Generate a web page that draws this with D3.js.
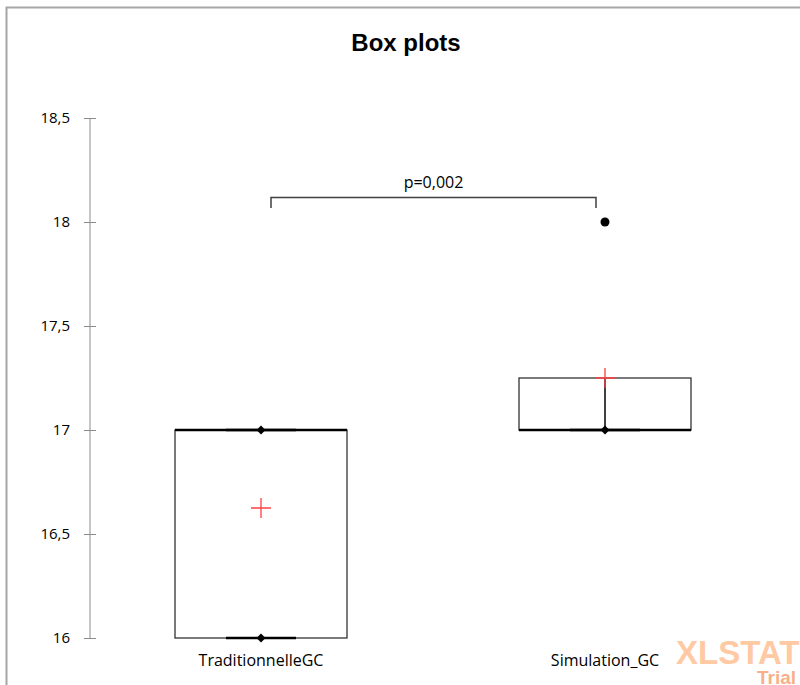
<!DOCTYPE html>
<html><head><meta charset="utf-8">
<script src="https://cdn.jsdelivr.net/npm/d3@7"></script>
<style>body{margin:0;background:#fff}svg{display:block}</style>
</head><body>
<script>
const categories = ["TraditionnelleGC", "Simulation_GC"];
const minVals = [16, 17];
const q1Vals = [16, 17];
const medianVals = [17, 17];
const q3Vals = [17, 17.25];
const maxVals = [17, 17.25];
const meanVals = [16.625, 17.25];
const outliers = [[], [18]];
const yTicks = [16, 16.5, 17, 17.5, 18, 18.5];
const pLabel = "p=0,002";

const W = 800, H = 685;
const svg = d3.select("body").append("svg").attr("width", W).attr("height", H);

// frame
svg.append("path").attr("d", `M6.5,${H} V7.5 H${W}`).attr("fill", "none").attr("stroke", "#a6a6a6").attr("stroke-width", 2);

const y = d3.scaleLinear().domain([16, 18.5]).range([638, 118]);
const x = d3.scaleBand().domain(categories).range([89, 777]).paddingInner(0.5).paddingOuter(0.25);
const fmt = v => String(v).replace(".", ",");

// title
svg.append("text").attr("x", 406).attr("y", 51).attr("text-anchor", "middle")
  .attr("font-family", "Liberation Sans, Arial, sans-serif").attr("font-weight", "bold").attr("font-size", 24)
  .text("Box plots");

// y axis
const ax = svg.append("g").attr("transform", "translate(90,0)")
  .call(d3.axisLeft(y).tickValues(yTicks).tickFormat(fmt).tickSize(6).tickPadding(14));
ax.select(".domain").attr("stroke", "#8c8c8c").attr("d", `M0,${y(18.5)}V${y(16)}`);
ax.selectAll(".tick line").attr("stroke", "#8c8c8c").attr("x1", -6).attr("x2", 6);
ax.selectAll(".tick text").attr("font-family", "Open Sans, sans-serif").attr("font-size", 15).attr("fill", "#000");

// watermark
svg.append("text").attr("x", 676).attr("y", 664).attr("font-family", "Liberation Sans, Arial, sans-serif")
  .attr("font-weight", "bold").attr("font-size", 33).attr("fill", "#ffc9a3").text("XLSTAT");
svg.append("text").attr("x", 757).attr("y", 684).attr("font-family", "Liberation Sans, Arial, sans-serif")
  .attr("font-weight", "bold").attr("font-size", 19).attr("fill", "#f7b088").text("Trial");

// category labels
svg.selectAll(".cat").data(categories).join("text").attr("class", "cat")
  .attr("x", d => x(d) + x.bandwidth() / 2).attr("y", 666).attr("text-anchor", "middle")
  .attr("font-family", "Open Sans, sans-serif").attr("font-size", 16).text(d => d);

const bw = x.bandwidth();
categories.forEach((c, i) => {
  const g = svg.append("g");
  const x0 = x(c), cx = x0 + bw / 2;
  const hasOut = outliers[i].length > 0;
  // whisker line (XLSTAT draws it through the box when outliers exist)
  if (hasOut) {
    g.append("line").attr("x1", cx).attr("x2", cx).attr("y1", y(minVals[i])).attr("y2", y(maxVals[i]))
      .attr("stroke", "#000").attr("stroke-width", 1.5);
  }
  // box
  g.append("rect").attr("x", x0).attr("y", y(q3Vals[i])).attr("width", bw).attr("height", y(q1Vals[i]) - y(q3Vals[i]))
    .attr("fill", "none").attr("stroke", "#333").attr("stroke-width", 1.3);
  // whisker caps
  const caps = hasOut ? [minVals[i]] : [minVals[i], maxVals[i]];
  caps.forEach(v => {
    g.append("line").attr("x1", cx - 35).attr("x2", cx + 35).attr("y1", y(v)).attr("y2", y(v))
      .attr("stroke", "#000").attr("stroke-width", 2.5);
  });
  // median
  g.append("line").attr("x1", x0).attr("x2", x0 + bw).attr("y1", y(medianVals[i])).attr("y2", y(medianVals[i]))
    .attr("stroke", "#000").attr("stroke-width", 2.5);
  // min/max diamonds
  const dset = hasOut ? [minVals[i]] : [minVals[i], maxVals[i]];
  dset.forEach(v => {
    g.append("path").attr("d", `M${cx},${y(v) - 4.5}L${cx + 4.5},${y(v)}L${cx},${y(v) + 4.5}L${cx - 4.5},${y(v)}Z`).attr("fill", "#000");
  });
  // outliers
  outliers[i].forEach(v => {
    g.append("circle").attr("cx", cx).attr("cy", y(v)).attr("r", 4.5).attr("fill", "#000");
  });
  // mean
  const my = y(meanVals[i]);
  g.append("path").attr("d", `M${cx - 10},${my}H${cx + 10}M${cx},${my - 10}V${my + 10}`)
    .attr("stroke", "#ff4040").attr("stroke-width", 1.3).attr("fill", "none");
});

// significance bracket
const bx1 = x(categories[0]) + bw / 2 + 10, bx2 = x(categories[1]) + bw / 2 - 9;
svg.append("path").attr("d", `M${bx1},208V197.5H${bx2}V208`).attr("fill", "none").attr("stroke", "#404040").attr("stroke-width", 1.5);
svg.append("text").attr("x", (bx1 + bx2) / 2).attr("y", 188).attr("text-anchor", "middle")
  .attr("font-family", "Open Sans, sans-serif").attr("font-size", 16).text(pLabel);
</script>
</body></html>
